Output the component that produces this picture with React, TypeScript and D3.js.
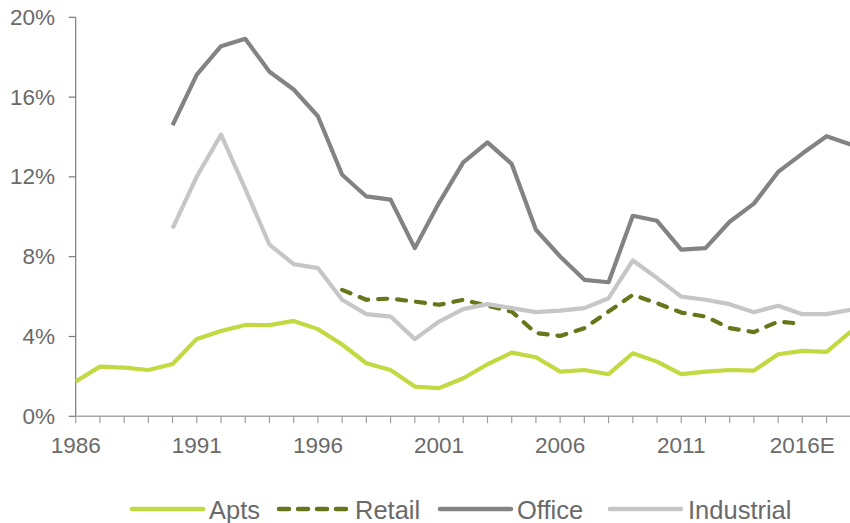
import React from "react";
import * as d3 from "d3";

const years: number[] = d3.range(1986, 2019);

const apts: (number | null)[] = [
  1.74, 2.49, 2.44, 2.32, 2.62, 3.88, 4.28, 4.58, 4.57, 4.78, 4.37, 3.6, 2.66, 2.32, 1.49,
  1.41, 1.91, 2.61, 3.19, 2.96, 2.24, 2.32, 2.11, 3.16, 2.74, 2.11, 2.24, 2.32, 2.29, 3.11,
  3.28, 3.23, 4.25,
];

const retail: (number | null)[] = [
  null, null, null, null, null, null, null, null, null, null, null, 6.34, 5.84, 5.9, 5.75,
  5.59, 5.84, 5.54, 5.25, 4.17, 4.03, 4.42, 5.25, 6.09, 5.67, 5.2, 5.0, 4.42, 4.22, 4.75,
  4.63, null, null,
];

const office: (number | null)[] = [
  null, null, null, null, 14.59, 17.13, 18.55, 18.92, 17.27, 16.38, 15.04, 12.11, 11.02, 10.86, 8.43,
  10.7, 12.73, 13.73, 12.65, 9.35, 8.01, 6.84, 6.72, 10.05, 9.8, 8.35, 8.43, 9.75, 10.66, 12.25,
  13.17, 14.04, 13.62,
];

const industrial: (number | null)[] = [
  null, null, null, null, 9.42, 12.02, 14.12, 11.4, 8.6, 7.63, 7.43, 5.84, 5.12, 5.0, 3.87,
  4.75, 5.37, 5.62, 5.42, 5.22, 5.3, 5.42, 5.92, 7.81, 6.93, 6.0, 5.84, 5.62, 5.22, 5.54,
  5.12, 5.12, 5.34,
];

const yTicks: number[] = [0, 4, 8, 12, 16, 20];
const xLabelYears: number[] = [1986, 1991, 1996, 2001, 2006, 2011, 2016];
const xLabels: string[] = ["1986", "1991", "1996", "2001", "2006", "2011", "2016E"];

const seriesNames: string[] = ["Apts", "Retail", "Office", "Industrial"];
const seriesData = [apts, retail, office, industrial];
const seriesColors: string[] = ["#c3d942", "#65771a", "#838383", "#c6c6c6"];
const seriesDash: (string | undefined)[] = [undefined, "9,10", undefined, undefined];

const W = 850;
const H = 523;
const FONT = "'Liberation Sans', Arial, sans-serif";
const TEXT = "#6a6a6a";

export default function App() {
  const x = d3.scaleLinear().domain([1986, 2018]).range([75.7, 850.8]);
  const y = d3.scaleLinear().domain([0, 20]).range([416.3, 17.3]);

  const line = (vals: (number | null)[]) =>
    d3
      .line<number>()
      .defined((i) => vals[i] != null)
      .x((i) => x(years[i]))
      .y((i) => y(vals[i] as number))(d3.range(years.length)) || "";

  const legendLineX: number[] = [132, 279, 440, 610];
  const legendTextX: number[] = [209, 355, 517, 688];
  const legendY = 509;

  return (
    <svg
      width={W}
      height={H}
      style={{ position: "absolute", left: 0, top: 0, background: "#fff" }}
      fontFamily={FONT}
    >
      {/* y axis */}
      <line x1={x(1986)} x2={x(1986)} y1={y(20)} y2={y(0)} stroke="#7a7a7a" strokeWidth={1.2} />
      {yTicks.map((t) => (
        <g key={t}>
          <line x1={x(1986) - 7} x2={x(1986)} y1={y(t)} y2={y(t)} stroke="#7a7a7a" strokeWidth={1.2} />
          <text
            x={55}
            y={y(t)}
            textAnchor="end"
            dominantBaseline="central"
            fontSize={22.5}
            fill={TEXT}
          >
            {t}%
          </text>
        </g>
      ))}
      {/* x axis */}
      <line x1={x(1986)} x2={x(2018)} y1={y(0)} y2={y(0)} stroke="#a8a8a8" strokeWidth={1.5} />
      {years.map((yr) => (
        <line key={yr} x1={x(yr)} x2={x(yr)} y1={y(0)} y2={y(0) + 7} stroke="#a0a0a0" strokeWidth={1.2} />
      ))}
      {xLabelYears.map((yr, i) => (
        <text key={yr} x={x(yr)} y={452.5} textAnchor="middle" fontSize={22.5} fill={TEXT}>
          {xLabels[i]}
        </text>
      ))}
      {/* series */}
      {seriesData.map((vals, i) => (
        <path
          key={seriesNames[i]}
          d={line(vals)}
          fill="none"
          stroke={seriesColors[i]}
          strokeWidth={4.2}
          strokeDasharray={seriesDash[i]}
          strokeLinecap={seriesDash[i] ? "round" : "butt"}
          strokeLinejoin="round"
        />
      ))}
      {/* legend */}
      {seriesNames.map((name, i) => (
        <g key={name}>
          <line
            x1={legendLineX[i]}
            x2={legendLineX[i] + 71}
            y1={legendY}
            y2={legendY}
            stroke={seriesColors[i]}
            strokeWidth={4.5}
            strokeDasharray={seriesDash[i] ? "10,9" : undefined}
            strokeLinecap="round"
          />
          <text x={legendTextX[i]} y={519} fontSize={25.5} fill={TEXT}>
            {name}
          </text>
        </g>
      ))}
    </svg>
  );
}
